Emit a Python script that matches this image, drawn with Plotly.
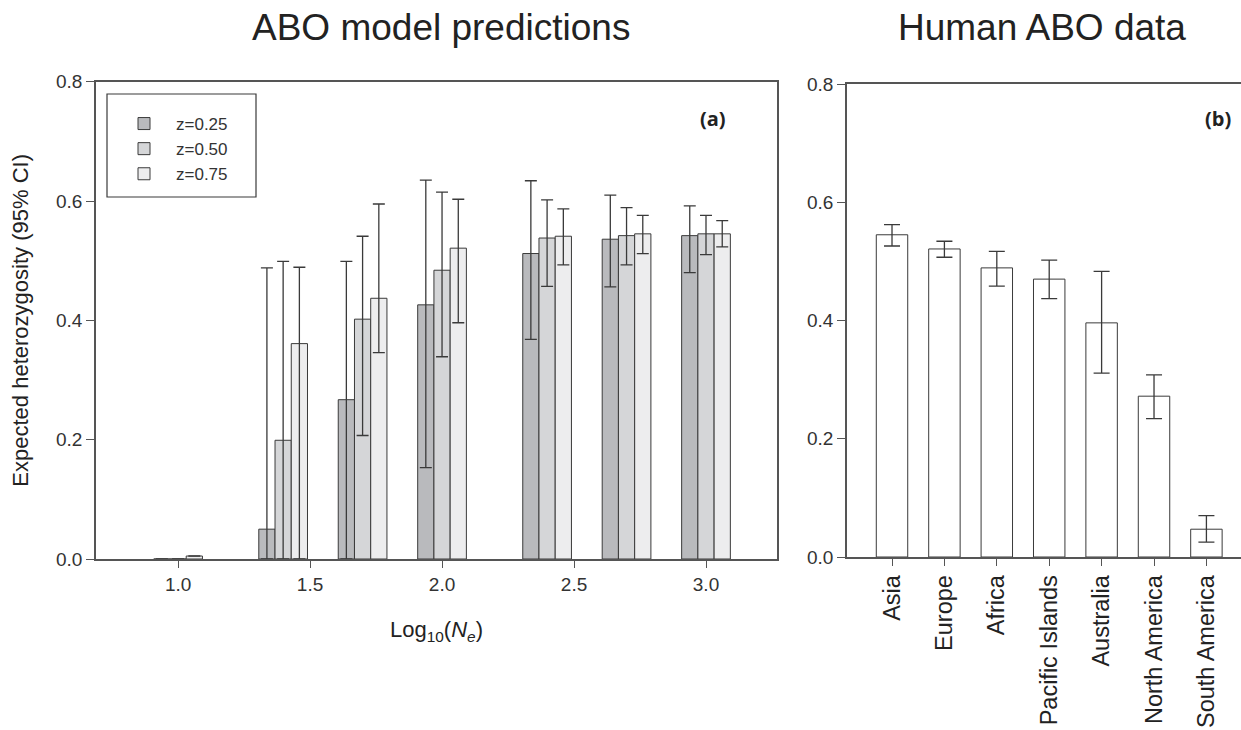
import plotly.graph_objects as go

# ---------------- data ----------------
log_ne = [1.0, 1.398, 1.699, 2.0, 2.398, 2.699, 3.0]

z25 = [0.0, 0.050, 0.267, 0.426, 0.512, 0.536, 0.542]
z25_hi = [0.0, 0.488, 0.499, 0.635, 0.634, 0.610, 0.592]
z25_lo = [0.0, 0.0, 0.0, 0.153, 0.368, 0.456, 0.480]

z50 = [0.0, 0.199, 0.402, 0.484, 0.538, 0.542, 0.545]
z50_hi = [0.0, 0.499, 0.541, 0.615, 0.602, 0.589, 0.576]
z50_lo = [0.0, 0.0, 0.207, 0.339, 0.457, 0.493, 0.510]

z75 = [0.005, 0.361, 0.437, 0.521, 0.541, 0.545, 0.545]
z75_hi = [0.005, 0.489, 0.595, 0.603, 0.587, 0.576, 0.567]
z75_lo = [0.005, 0.0, 0.346, 0.396, 0.493, 0.512, 0.523]

series_names = ["z=0.25", "z=0.50", "z=0.75"]

regions = ["Asia", "Europe", "Africa", "Pacific Islands", "Australia",
           "North America", "South America"]
hum = [0.545, 0.521, 0.489, 0.470, 0.396, 0.272, 0.047]
hum_hi = [0.562, 0.534, 0.517, 0.502, 0.483, 0.308, 0.070]
hum_lo = [0.526, 0.507, 0.458, 0.437, 0.311, 0.234, 0.025]

x_ticks = [1.0, 1.5, 2.0, 2.5, 3.0]
y_ticks = [0.0, 0.2, 0.4, 0.6, 0.8]

# ---------------- style ----------------
FONT = "Arial, 'Liberation Sans', sans-serif"
INK = "#3a3a3a"
AXIS = "#555555"
fills = ["#b9babd", "#d5d6d8", "#ededee"]
bar_w = 0.0615
W, H = 1241, 730

fig = go.Figure()

model = [(z25, z25_hi, z25_lo), (z50, z50_hi, z50_lo), (z75, z75_hi, z75_lo)]
for i, (vals, hi, lo) in enumerate(model):
    fig.add_trace(go.Bar(
        x=log_ne, y=vals, name=series_names[i] + "\u00a0\u00a0\u00a0",
        width=bar_w, offset=-1.5 * bar_w + i * bar_w,
        marker=dict(color=fills[i], line=dict(color=INK, width=1)),
        error_y=dict(type="data", symmetric=False,
                     array=[h - v for h, v in zip(hi, vals)],
                     arrayminus=[v - l for v, l in zip(vals, lo)],
                     color=INK, thickness=1.3, width=6),
        xaxis="x", yaxis="y",
    ))

fig.add_trace(go.Bar(
    x=regions, y=hum, showlegend=False, width=0.6,
    marker=dict(color="white", line=dict(color=INK, width=1)),
    error_y=dict(type="data", symmetric=False,
                 array=[h - v for h, v in zip(hum_hi, hum)],
                 arrayminus=[v - l for v, l in zip(hum, hum_lo)],
                 color=INK, thickness=1.3, width=8),
    xaxis="x2", yaxis="y2",
))

tickfont = dict(family=FONT, size=19, color="#333333")

fig.update_layout(
    width=W, height=H,
    margin=dict(l=0, r=0, t=0, b=0, autoexpand=False),
    paper_bgcolor="white", plot_bgcolor="white",
    barmode="overlay",
    font=dict(family=FONT, color="#222222"),
    showlegend=True,
    legend=dict(x=112 / W, y=1 - 106 / H, xanchor="left", yanchor="top",
                borderwidth=0, bgcolor="rgba(0,0,0,0)",
                font=dict(family=FONT, size=17, color="#333333"),
                tracegroupgap=0, itemwidth=54),
    xaxis=dict(domain=[96 / W, 777 / W], range=[0.689, 3.269], automargin=False,
               tickvals=x_ticks, ticktext=[f"{v:.1f}" for v in x_ticks],
               ticks="outside", ticklen=7, tickcolor=AXIS, tickwidth=1.3,
               showline=True, linecolor=AXIS, linewidth=1.5, mirror=True,
               showgrid=False, zeroline=False, tickfont=tickfont,
               title=dict(text="Log<sub>10</sub>(<i>N</i><sub><i>e</i></sub>)",
                          font=dict(family=FONT, size=22, color="#222222"),
                          standoff=28)),
    yaxis=dict(domain=[1 - 559 / H, 1 - 81.7 / H], range=[0, 0.8], automargin=False,
               tickvals=y_ticks, ticktext=[f"{v:.1f}" for v in y_ticks],
               ticks="outside", ticklen=8, tickcolor=AXIS, tickwidth=1.3,
               showline=True, linecolor=AXIS, linewidth=1.5, mirror=True,
               showgrid=False, zeroline=False, tickfont=tickfont,
               title=dict(text="Expected heterozygosity (95% CI)",
                          font=dict(family=FONT, size=22, color="#222222"),
                          standoff=21)),
    xaxis2=dict(domain=[847 / W, 1.0], range=[-0.859, 6.66], automargin=False,
                ticks="outside", ticklen=7, tickcolor=AXIS, tickwidth=1.3,
                tickangle=-90,
                showline=True, linecolor=AXIS, linewidth=1.5, mirror=True,
                showgrid=False, zeroline=False,
                tickfont=dict(family=FONT, size=23.5, color="#222222"),
                anchor="y2"),
    yaxis2=dict(domain=[1 - 557 / H, 1 - 84 / H], range=[0, 0.8], automargin=False,
                tickvals=y_ticks, ticktext=[f"{v:.1f}" for v in y_ticks],
                ticks="outside", ticklen=8, tickcolor=AXIS, tickwidth=1.3,
                showline=True, linecolor=AXIS, linewidth=1.5,
                showgrid=False, zeroline=False, tickfont=tickfont,
                anchor="x2"),
    shapes=[
        dict(type="rect", xref="paper", yref="paper",
             x0=107 / W, x1=256 / W, y0=1 - 197 / H, y1=1 - 94 / H,
             line=dict(color=INK, width=1.2), fillcolor="rgba(0,0,0,0)",
             layer="above"),
    ],
    annotations=[
        dict(text="ABO model predictions", x=441 / W, y=1 - 27 / H,
             xref="paper", yref="paper", showarrow=False,
             xanchor="center", yanchor="middle",
             font=dict(family=FONT, size=37, color="#222222")),
        dict(text="Human ABO data", x=1042 / W, y=1 - 27 / H,
             xref="paper", yref="paper", showarrow=False,
             xanchor="center", yanchor="middle",
             font=dict(family=FONT, size=37, color="#222222")),
        dict(text="<b>(a)</b>", x=713 / W, y=1 - 118 / H, xref="paper", yref="paper",
             showarrow=False, xanchor="center", yanchor="middle",
             font=dict(family="'Open Sans', " + FONT, size=20, color="#222222")),
        dict(text="<b>(b)</b>", x=1218 / W, y=1 - 118 / H, xref="paper", yref="paper",
             showarrow=False, xanchor="center", yanchor="middle",
             font=dict(family="'Open Sans', " + FONT, size=20, color="#222222")),
    ],
)

fig.write_html("out.html",
               config={"displayModeBar": False},
               post_script="document.body.style.margin='0';"
                           "document.body.style.overflow='hidden';")
